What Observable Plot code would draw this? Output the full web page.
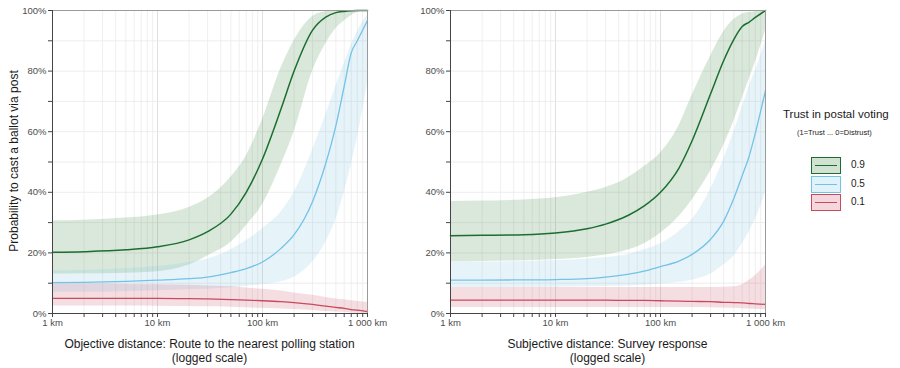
<!DOCTYPE html>
<html><head><meta charset="utf-8">
<script src="https://cdn.jsdelivr.net/npm/d3@7"></script>
<script src="https://cdn.jsdelivr.net/npm/@observablehq/plot@0.6"></script>
<style>
body{margin:0;background:#fff;font-family:"Liberation Sans",Arial,sans-serif;}
#root{position:relative;width:900px;height:368px;overflow:hidden;background:#fff}
.panel{position:absolute;top:0}
.xt{position:absolute;text-align:center;font-size:12px;color:#1a1a1a;line-height:14px}
.ylab{position:absolute;font-size:12px;color:#1a1a1a;white-space:nowrap;transform:translate(-50%,-50%) rotate(-90deg)}
.leg{position:absolute;color:#1a1a1a}
</style></head><body><div id="root"></div>
<script>
// ---------- data (percent) ----------
const distances = [1,2,5,10,20,30,50,70,100,150,200,300,400,500,600,700,800,1000];
const trustLevels = ["0.9","0.5","0.1"];
const majorTicks = [1,10,100,1000];
const tickLabels = ["1 km","10 km","100 km","1 000 km"];
const yTicks = [0,20,40,60,80,100];
const panelTitles = [["Objective distance: Route to the nearest polling station","(logged scale)"],
                     ["Subjective distance: Survey response","(logged scale)"]];
const yTitle = "Probability to cast a ballot via post";
const legendTitle = "Trust in postal voting";
const legendSubtitle = "(1=Trust ... 0=Distrust)";

// Objective distance
const obj09Mean = [20.2,20.4,21,22,24.3,27,32.8,40,51,67.5,80,93.5,97.8,99.3,99.7,99.9,100,100];
const obj09Hi   = [30.6,30.8,31.5,32.5,35,38,45,52,64,81,90,98,99.6,100,100,100,100,100];
const obj09Lo   = [13,13.1,13.3,13.8,16,19,23.5,29,36,49,60,80,89,94,96.5,98.3,99.3,100];
const obj05Mean = [10.2,10.3,10.6,11,11.5,12,13.5,14.8,17,21.5,26,37,49.5,62,75,86,90,96.7];
const obj05Hi   = [14,14.2,14.8,15.5,16.8,18,21,24,28,33.5,40,54,65.5,75,82.5,88.5,93,98.5];
const obj05Lo   = [7,7,7.2,7.5,7.8,8,8.5,9,9.5,10.5,12,17,23.5,31,40,49,58,76];
const obj01Mean = [5,5,5,5,4.9,4.8,4.6,4.4,4.2,3.9,3.6,3,2.4,2,1.7,1.3,1.1,0.6];
const obj01Hi   = [9.7,9.7,9.6,9.5,9.3,9.1,8.8,8.4,8,7.4,6.8,6,5.3,4.8,4.5,4.2,4,3.6];
const obj01Lo   = [2.5,2.5,2.5,2.4,2.3,2.2,2.1,1.9,1.7,1.5,1.3,1,0.7,0.5,0.4,0.2,0.1,0];

// Subjective distance
const subj09Mean = [25.7,25.8,26,26.6,28,29.5,32.5,35.5,40,48,57,72.5,83.5,90.5,94.7,96.2,97.7,100];
const subj09Hi   = [37,37.1,37.5,38.2,40,41.6,45,48.5,53,62,72,85,93,97,98.8,99.3,99.6,100];
const subj09Lo   = [17.1,17.2,17.4,17.8,18.5,19.3,21,23,26.5,32,37.5,47,55.5,63.5,71,77.5,83,93.4];
const subj05Mean = [11,11,11.1,11.2,11.5,12,13,14,15.5,17.3,19.5,24.5,30.5,38,45.5,52,59.5,73.6];
const subj05Hi   = [17,17,17.2,17.5,18,18.5,19.5,21,23,27,31,41,51,60,68,75,80,90];
const subj05Lo   = [8.6,8.6,8.6,8.7,8.8,8.9,9.1,9.3,9.7,10.3,11,13,16,19,23,27,31,40];
const subj01Mean = [4.4,4.4,4.4,4.4,4.4,4.4,4.3,4.3,4.2,4.1,4,3.9,3.7,3.6,3.5,3.3,3.2,3];
const subj01Hi   = [8.6,8.6,8.6,8.6,8.6,8.6,8.6,8.6,8.6,8.6,8.6,8.6,8.7,8.8,9.5,11,12.5,16];
const subj01Lo   = [2,2,2,2,2,2,2,2,2,2,2,1.9,1.8,1.7,1.6,1.5,1.4,1.2];

// ---------- styling ----------
const lineColors = {"0.9":"#1b6e30","0.5":"#74c2e6","0.1":"#c9495f"};
const bandColors = {"0.9":"#2e7d32","0.5":"#74c2e6","0.1":"#c9495f"};
const bandOpacity = 0.18;

function rows(mean, lo, hi, trust) {
  return distances.map((x,i) => ({x, mean: mean[i], lo: lo[i], hi: hi[i], trust}));
}
const objRows = [...rows(obj09Mean,obj09Lo,obj09Hi,"0.9"),...rows(obj05Mean,obj05Lo,obj05Hi,"0.5"),...rows(obj01Mean,obj01Lo,obj01Hi,"0.1")];
const subjRows = [...rows(subj09Mean,subj09Lo,subj09Hi,"0.9"),...rows(subj05Mean,subj05Lo,subj05Hi,"0.5"),...rows(subj01Mean,subj01Lo,subj01Hi,"0.1")];

const minorTicks = [];
for (const dec of [1,10,100]) for (let k=2;k<=9;k++) minorTicks.push(dec*k);
const yGrid = d3.range(0,101,10);
const yMinor = [10,30,50,70,90];

function panel(data, marginLeft, marginRight) {
  const bandOrder = ["0.9","0.5","0.1"];
  return Plot.plot({
    width: marginLeft + 315 + marginRight, height: 330,
    marginTop: 10, marginBottom: 17, marginLeft, marginRight,
    style: {fontFamily: "'Liberation Sans', Arial, sans-serif", fontSize: "9.5px", color: "#4d4d4d", background: "#fff"},
    x: {type: "log", domain: [1,1000]},
    y: {domain: [0,100]},
    marks: [
      Plot.gridX(minorTicks, {stroke: "#e4e4e4", strokeOpacity: 1, strokeWidth: 0.6}),
      Plot.gridX(majorTicks, {stroke: "#dcdcdc", strokeOpacity: 1, strokeWidth: 0.9}),
      Plot.gridY(yGrid, {stroke: "#e8e8e8", strokeOpacity: 1, strokeWidth: 0.8}),
      ...bandOrder.map(t => Plot.areaY(data.filter(d => d.trust === t), {x: "x", y1: "lo", y2: "hi", fill: bandColors[t], fillOpacity: bandOpacity, curve: "monotone-x"})),
      ...bandOrder.map(t => Plot.lineY(data.filter(d => d.trust === t), {x: "x", y: "mean", stroke: lineColors[t], strokeWidth: t === "0.9" ? 1.5 : 1.3, curve: "monotone-x"})),
      Plot.frame({stroke: "#9a9a9a", strokeWidth: 1}),
      Plot.ruleX([1], {stroke: "#444", strokeWidth: 1}),
      Plot.ruleY([0], {stroke: "#444", strokeWidth: 1}),
      Plot.axisX(majorTicks, {tickFormat: d => tickLabels[majorTicks.indexOf(d)], tickSize: 4, tickPadding: 1.5, stroke: "#444", fill: "#4d4d4d", label: null}),
      Plot.axisX(minorTicks, {tickFormat: () => "", tickSize: 4, stroke: "#444", label: null}),
      Plot.axisY(yTicks, {tickFormat: d => d + "%", tickSize: 4, tickPadding: 2, stroke: "#444", fill: "#4d4d4d", label: null}),
      Plot.axisY(yMinor, {tickFormat: () => "", tickSize: 4, stroke: "#444", label: null})
    ]
  });
}

const root = document.getElementById("root");
const p1 = panel(objRows, 52, 33);
p1.classList.add("panel"); p1.style.left = "0px";
root.appendChild(p1);
const p2 = panel(subjRows, 50, 35);
p2.classList.add("panel"); p2.style.left = "400px";
root.appendChild(p2);

// y title
const yl = document.createElement("div");
yl.className = "ylab"; yl.textContent = yTitle;
yl.style.left = "14px"; yl.style.top = "161px";
root.appendChild(yl);

// x titles
[209.5, 607.5].forEach((cx, i) => {
  const d = document.createElement("div");
  d.className = "xt";
  d.style.left = (cx - 200) + "px"; d.style.width = "400px"; d.style.top = "337px";
  d.innerHTML = panelTitles[i].map(s => `<div>${s}</div>`).join("");
  root.appendChild(d);
});

// legend
const lt = document.createElement("div");
lt.className = "leg"; lt.textContent = legendTitle;
lt.style.left = "783px"; lt.style.top = "108px"; lt.style.fontSize = "11.5px";
root.appendChild(lt);
const ls = document.createElement("div");
ls.className = "leg"; ls.textContent = legendSubtitle;
ls.style.left = "797px"; ls.style.top = "128px"; ls.style.fontSize = "7.5px";
root.appendChild(ls);
trustLevels.forEach((t, i) => {
  const top = 157 + i * 18.5;
  const box = document.createElement("div");
  box.className = "leg";
  box.style.left = "811px"; box.style.top = top + "px";
  box.style.width = "28px"; box.style.height = "15px";
  box.style.border = "1px solid " + lineColors[t];
  const c = d3.color(bandColors[t]);
  box.style.background = `rgba(${c.r},${c.g},${c.b},${bandOpacity + 0.04})`;
  const ln = document.createElement("div");
  ln.style.position = "absolute"; ln.style.left = "3px"; ln.style.right = "3px"; ln.style.top = "7px";
  ln.style.height = "1.4px"; ln.style.background = lineColors[t];
  box.appendChild(ln);
  root.appendChild(box);
  const lab = document.createElement("div");
  lab.className = "leg"; lab.textContent = t;
  lab.style.left = "851px"; lab.style.top = (top + 2) + "px"; lab.style.fontSize = "10px";
  root.appendChild(lab);
});
</script></body></html>
